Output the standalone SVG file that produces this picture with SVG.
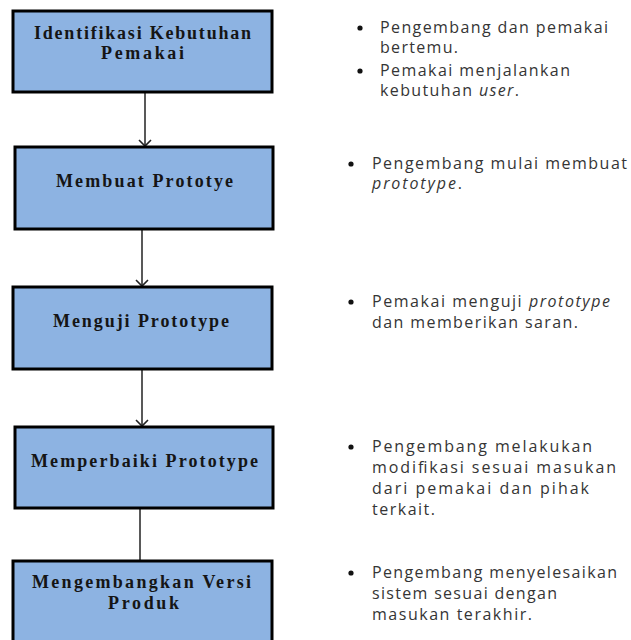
<svg xmlns="http://www.w3.org/2000/svg" width="631" height="640" viewBox="0 0 631 640">
  <style>
    .box { fill: #8db3e2; stroke: #000; stroke-width: 3; }
    .title { font-family: "Liberation Serif", "Times New Roman", serif; font-weight: bold; font-size: 18px; fill: #151515; }
    .note { font-family: "Open Sans", "Liberation Sans", sans-serif; font-size: 16px; fill: #353535; }
    .dot { fill: #111; }
    .link { stroke: #222; stroke-width: 1.5; fill: none; }
  </style>
  <defs>
    <!-- open V head; marker x-axis follows the line direction -->
    <marker id="arrow" markerWidth="10" markerHeight="16" refX="8" refY="8" orient="auto" markerUnits="userSpaceOnUse">
      <path d="M2,2 L8,8 L2,14" fill="none" stroke="#222" stroke-width="1.6"/>
    </marker>
  </defs>
  <rect width="631" height="640" fill="#fff"/>

  <!-- connectors -->
  <g id="connectors">
    <line class="link" x1="145" y1="92" x2="145" y2="146" marker-end="url(#arrow)"/>
    <line class="link" x1="142" y1="229" x2="142" y2="286" marker-end="url(#arrow)"/>
    <line class="link" x1="142" y1="369" x2="142" y2="426" marker-end="url(#arrow)"/>
    <line class="link" x1="140" y1="508" x2="140" y2="560"/>
  </g>

  <g id="step1">
    <rect class="box" x="13" y="11" width="259" height="81"/>
    <text class="title" x="34" y="39" textLength="217" lengthAdjust="spacing">Identifikasi Kebutuhan</text>
    <text class="title" x="101" y="59" textLength="83" lengthAdjust="spacing">Pemakai</text>
  </g>
  <g id="step2">
    <rect class="box" x="15" y="147" width="258" height="82"/>
    <text class="title" x="56" y="187" textLength="177" lengthAdjust="spacing">Membuat Prototye</text>
  </g>
  <g id="step3">
    <rect class="box" x="13" y="287" width="259" height="82"/>
    <text class="title" x="53" y="327" textLength="176" lengthAdjust="spacing">Menguji Prototype</text>
  </g>
  <g id="step4">
    <rect class="box" x="15" y="427" width="258" height="81"/>
    <text class="title" x="31" y="467" textLength="227" lengthAdjust="spacing">Memperbaiki Prototype</text>
  </g>
  <g id="step5">
    <rect class="box" x="13" y="561" width="259" height="100"/>
    <text class="title" x="32" y="588" textLength="219" lengthAdjust="spacing">Mengembangkan Versi</text>
    <text class="title" x="108" y="609" textLength="71" lengthAdjust="spacing">Produk</text>
  </g>

  <!-- notes -->
  <g id="notes1">
    <circle class="dot" cx="360" cy="28" r="2.6"/>
    <text class="note" x="380" y="33" textLength="228" lengthAdjust="spacing">Pengembang dan pemakai</text>
    <text class="note" x="380" y="53" textLength="78" lengthAdjust="spacing">bertemu.</text>
    <circle class="dot" cx="360" cy="71" r="2.6"/>
    <text class="note" x="380" y="76" textLength="190" lengthAdjust="spacing">Pemakai menjalankan</text>
    <text class="note" x="380" y="96" textLength="139" lengthAdjust="spacing">kebutuhan <tspan font-style="italic">user</tspan>.</text>
  </g>
  <g id="notes2">
    <circle class="dot" cx="351" cy="164" r="2.6"/>
    <text class="note" x="372" y="169" textLength="255" lengthAdjust="spacing">Pengembang mulai membuat</text>
    <text class="note" x="372" y="189" textLength="90" lengthAdjust="spacing"><tspan font-style="italic">prototype</tspan>.</text>
  </g>
  <g id="notes3">
    <circle class="dot" cx="351" cy="302" r="2.6"/>
    <text class="note" x="372" y="307" textLength="238" lengthAdjust="spacing">Pemakai menguji <tspan font-style="italic">prototype</tspan></text>
    <text class="note" x="372" y="328" textLength="206" lengthAdjust="spacing">dan memberikan saran.</text>
  </g>
  <g id="notes4">
    <circle class="dot" cx="351" cy="447" r="2.6"/>
    <text class="note" x="372" y="452" textLength="220" lengthAdjust="spacing">Pengembang  melakukan</text>
    <text class="note" x="372" y="473" textLength="244" lengthAdjust="spacing">modifikasi sesuai masukan</text>
    <text class="note" x="372" y="494" textLength="217" lengthAdjust="spacing">dari pemakai dan pihak</text>
    <text class="note" x="372" y="515" textLength="63" lengthAdjust="spacing">terkait.</text>
  </g>
  <g id="notes5">
    <circle class="dot" cx="351" cy="573" r="2.6"/>
    <text class="note" x="372" y="578" textLength="245" lengthAdjust="spacing">Pengembang menyelesaikan</text>
    <text class="note" x="372" y="599" textLength="185" lengthAdjust="spacing">sistem sesuai dengan</text>
    <text class="note" x="372" y="620" textLength="160" lengthAdjust="spacing">masukan terakhir.</text>
  </g>
</svg>
